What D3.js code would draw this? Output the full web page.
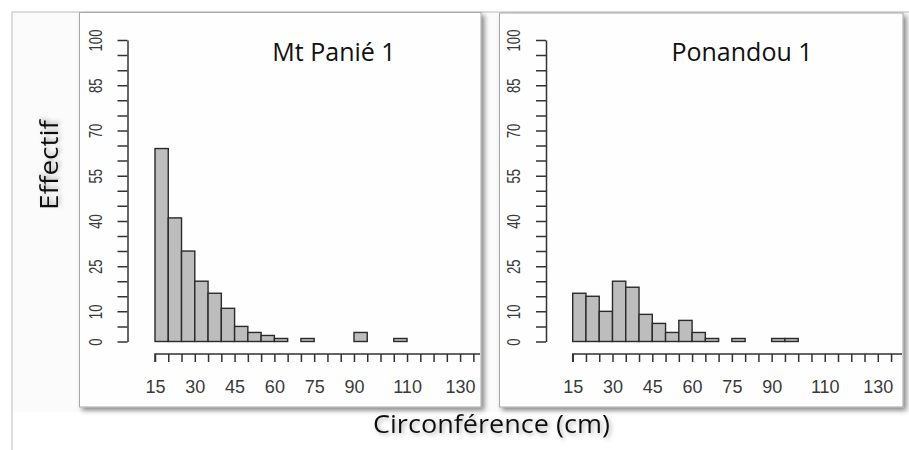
<!DOCTYPE html>
<html>
<head>
<meta charset="utf-8">
<script src="https://cdn.jsdelivr.net/npm/d3@7"></script>
<style>
  html, body { margin: 0; padding: 0; background: #ffffff; }
  svg { display: block; }
</style>
</head>
<body>
<svg id="chart" width="909" height="450"></svg>
<script>
// ---------------- DATA ----------------
const binStart = 15;
const binWidth = 5;
// counts per 5 cm bin, starting at 15 cm (15-20, 20-25, ...)
const mtPanieCounts   = [64, 41, 30, 20, 16, 11, 5, 3, 2, 1, 0, 1, 0, 0, 0, 3, 0, 0, 1, 0, 0, 0, 0, 0, 0, 0];
const ponandouCounts  = [16, 15, 10, 20, 18, 9, 6, 3, 7, 3, 1, 0, 1, 0, 0, 1, 1, 0, 0, 0, 0, 0, 0, 0, 0, 0];
const panelTitles     = ["Mt Panié 1", "Ponandou 1"];
const yTickValues     = d3.range(0, 101, 5);
const yTickLabels     = [0, 10, 25, 40, 55, 70, 85, 100];
const xTickValues     = d3.range(15, 146, 5);
const xTickLabels     = [15, 30, 45, 60, 75, 90, 110, 130];
const yAxisTitle      = "Effectif";
const xAxisTitle      = "Circonférence (cm)";

// ---------------- LAYOUT ----------------
const svg = d3.select("#chart");
const defs = svg.append("defs");

const shadow = defs.append("filter").attr("id", "panelShadow")
  .attr("x", "-5%").attr("y", "-5%").attr("width", "115%").attr("height", "115%");
shadow.append("feDropShadow").attr("dx", 3).attr("dy", 3).attr("stdDeviation", 2.5)
  .attr("flood-color", "#000").attr("flood-opacity", 0.45);

const glow = defs.append("filter").attr("id", "textGlow")
  .attr("x", "-20%").attr("y", "-40%").attr("width", "140%").attr("height", "180%");
glow.append("feDropShadow").attr("dx", 2).attr("dy", 2).attr("stdDeviation", 2)
  .attr("flood-color", "#777").attr("flood-opacity", 0.55);

// outer frame
svg.append("rect").attr("x", 12).attr("y", 12).attr("width", 900).attr("height", 450)
  .attr("fill", "#fbfbfb").attr("stroke", "#c9c9c9").attr("stroke-width", 1.2);
svg.append("rect").attr("x", 13).attr("y", 412).attr("width", 896).attr("height", 40).attr("fill", "#ffffff");

const panels = [
  { left: 79.5, top: 12.5, right: 481, bottom: 407, yAxisX: 127.5, x0: 155, counts: mtPanieCounts, title: panelTitles[0], titleX: 334, labelOff: -26 },
  { left: 499.5, top: 13, right: 903, bottom: 407, yAxisX: 546, x0: 572.7, counts: ponandouCounts, title: panelTitles[1], titleX: 742, labelOff: -26 }
];

const pxPerUnit = 2.653;
const y = d3.scaleLinear().domain([0, 100]).range([341.5, 40]);
const axisColor = "#333333";

panels.forEach((p, i) => {
  // panel with shadow
  svg.append("rect")
    .attr("x", p.left).attr("y", p.top)
    .attr("width", p.right - p.left).attr("height", p.bottom - p.top)
    .attr("fill", "#fefefe").attr("stroke", "#a8a8a8").attr("stroke-width", 1)
    .attr("filter", "url(#panelShadow)");

  const clipId = "clip" + i;
  defs.append("clipPath").attr("id", clipId).append("rect")
    .attr("x", p.left + 0.5).attr("y", p.top + 0.5)
    .attr("width", p.right - p.left - 1.5).attr("height", p.bottom - p.top - 1);

  const g = svg.append("g").attr("clip-path", `url(#${clipId})`);

  const x = d3.scaleLinear()
    .domain([binStart, binStart + 140])
    .range([p.x0, p.x0 + 140 * pxPerUnit]);

  // bars (zero-count bins drawn as flat rects, forming the baseline)
  const bins = p.counts.map((c, k) => ({ x0: binStart + k * binWidth, x1: binStart + (k + 1) * binWidth, n: c }));
  g.append("g").selectAll("rect").data(bins).join("rect")
    .attr("x", d => x(d.x0))
    .attr("y", d => y(d.n))
    .attr("width", d => x(d.x1) - x(d.x0))
    .attr("height", d => y(0) - y(d.n))
    .attr("fill", "#bdbdbd")
    .attr("stroke", "#2a2a2a")
    .attr("stroke-width", 1.4);

  // y axis
  const yAxis = d3.axisLeft(y)
    .tickValues(yTickValues)
    .tickSize(10)
    .tickSizeOuter(0)
    .tickFormat(d => yTickLabels.includes(d) ? String(d) : "");
  const gy = g.append("g").attr("transform", `translate(${p.yAxisX},0)`).call(yAxis);
  gy.select(".domain").attr("stroke", axisColor).attr("stroke-width", 1.5);
  gy.selectAll(".tick line").attr("stroke", axisColor).attr("stroke-width", 1.5);
  gy.selectAll(".tick text")
    .attr("x", 0).attr("y", 0).attr("dy", 0)
    .attr("text-anchor", "middle")
    .attr("transform", `translate(${p.labelOff},0) rotate(-90)`)
    .attr("font-family", "Liberation Sans, Arial, sans-serif")
    .attr("font-size", 18)
    .attr("fill", "#3a3a3a")
    .each(function(d) {
      const t = d3.select(this);
      if (t.text()) t.attr("textLength", t.text().length * 7.3).attr("lengthAdjust", "spacingAndGlyphs");
    });

  // x axis
  const xAxis = d3.axisBottom(x)
    .tickValues(xTickValues)
    .tickSize(8)
    .tickSizeOuter(0)
    .tickFormat(d => xTickLabels.includes(d) ? String(d) : "");
  const gx = g.append("g").attr("transform", "translate(0,354)").call(xAxis);
  gx.select(".domain").attr("stroke", axisColor).attr("stroke-width", 1.5)
    .attr("d", `M${x(binStart)},8V0H${x(binStart + 140)}`);
  gx.selectAll(".tick line").attr("stroke", axisColor).attr("stroke-width", 1.5);
  gx.selectAll(".tick text")
    .attr("y", 39.3).attr("dy", 0)
    .attr("font-family", "Liberation Sans, Arial, sans-serif")
    .attr("font-size", 18)
    .attr("fill", "#3a3a3a");

  // panel title
  g.append("text")
    .attr("x", p.titleX).attr("y", 61)
    .attr("text-anchor", "middle")
    .attr("font-family", "Open Sans, sans-serif")
    .attr("font-size", 25)
    .attr("fill", "#111")
    .text(p.title);
});

// y axis title
svg.append("text")
  .attr("transform", "translate(58,165) rotate(-90)")
  .attr("text-anchor", "middle")
  .attr("font-family", "Open Sans, sans-serif")
  .attr("font-size", 25)
  .attr("fill", "#111")
  .attr("filter", "url(#textGlow)")
  .attr("textLength", 90).attr("lengthAdjust", "spacingAndGlyphs")
  .text(yAxisTitle);

// x axis title
svg.append("text")
  .attr("x", 373).attr("y", 433)
  .attr("font-family", "Open Sans, sans-serif")
  .attr("font-size", 25)
  .attr("fill", "#111")
  .attr("filter", "url(#textGlow)")
  .attr("textLength", 237).attr("lengthAdjust", "spacingAndGlyphs")
  .text(xAxisTitle);
</script>
</body>
</html>
